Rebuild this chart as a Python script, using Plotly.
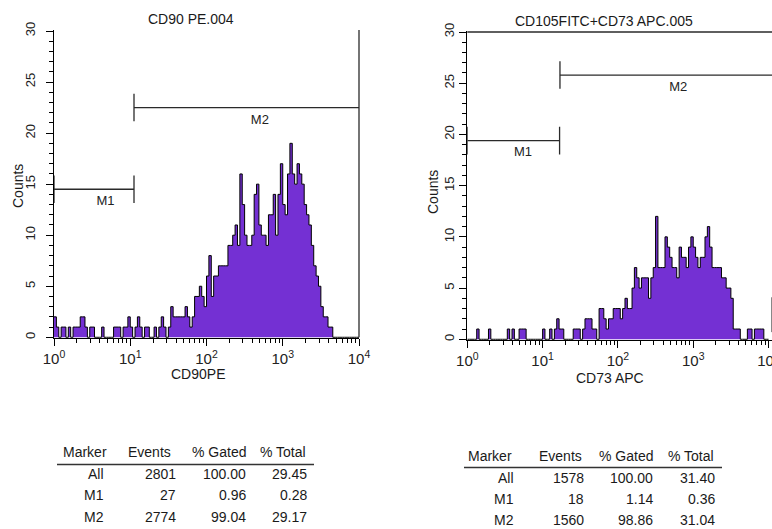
import plotly.graph_objects as go

W, H = 772, 529
FONT = "Liberation Sans, Arial, Helvetica, sans-serif"

# ---------------- data ----------------
DECADES = 4  # x axis spans 10^0 .. 10^4 (log channels)

# CD90 PE histogram counts (128 log-spaced channels from 10^0 to 10^4)
cd90pe_counts = [
    2, 1, 0, 1, 1, 0, 1, 0, 1, 1,
    1, 2, 2, 1, 0, 1, 1, 0, 0, 0,
    1, 0, 0, 0, 0, 1, 1, 1, 0, 1,
    1, 2, 1, 0, 1, 2, 1, 0, 1, 1,
    0, 0, 1, 0, 1, 2, 1, 0, 1, 3,
    2, 2, 2, 2, 2, 3, 2, 1, 2, 4,
    4, 5, 4, 3, 6, 8, 4, 6, 6, 7,
    7, 7, 7, 9, 9, 10, 11, 9, 16, 13,
    10, 9, 9, 10, 14, 15, 11, 10, 10, 9,
    12, 12, 14, 10, 14, 17, 13, 12, 16, 19,
    16, 15, 17, 16, 15, 13, 12, 11, 9, 7,
    6, 5, 3, 2, 2, 1, 1, 0, 0, 0,
    0, 0, 0, 0, 0, 0, 0, 0,
]

# CD73 APC histogram counts (128 log-spaced channels from 10^0 to 10^4)
cd73apc_counts = [
    0, 0, 0, 0, 1, 0, 0, 0, 0, 1,
    0, 0, 0, 0, 0, 0, 0, 1, 0, 1,
    0, 0, 1, 1, 1, 0, 0, 0, 0, 0,
    0, 0, 1, 0, 0, 1, 0, 1, 2, 1,
    1, 0, 0, 0, 0, 1, 1, 1, 0, 1,
    2, 2, 2, 1, 1, 0, 3, 3, 2, 1,
    2, 2, 3, 3, 3, 2, 3, 4, 3, 3,
    5, 7, 6, 5, 6, 6, 6, 4, 6, 7,
    12, 7, 7, 7, 10, 9, 8, 7, 7, 6,
    9, 8, 8, 7, 9, 10, 9, 8, 7, 8,
    8, 10, 11, 9, 7, 7, 7, 7, 6, 6,
    5, 5, 4, 1, 1, 1, 0, 0, 0, 1,
    1, 0, 1, 1, 1, 1, 0, 0,
]

# marker gates (channel value ranges)
cd90_gates = {"M1": (1.0, 11.2), "M2": (11.2, 10000.0)}
cd73_gates = {"M1": (1.0, 16.8), "M2": (17.0, 11200.0)}

# statistics tables
table_header = ["Marker", "Events", "% Gated", "% Total"]
table_markers = ["All", "M1", "M2"]
cd90_events = ["2801", "27", "2774"]
cd90_gated = ["100.00", "0.96", "99.04"]
cd90_total = ["29.45", "0.28", "29.17"]
cd73_events = ["1578", "18", "1560"]
cd73_gated = ["100.00", "1.14", "98.86"]
cd73_total = ["31.40", "0.36", "31.04"]

# ---------------- figure ----------------
PURPLE = "#7430d3"
MARK = "#2a2a2a"

def px(x):
    return x / W

def py(y):
    return 1 - y / H

fig = go.Figure()


def add_hist(counts, xa, ya):
    n = len(counts)
    xs = [10 ** (DECADES * i / n) for i in range(n + 1)]
    ys = list(counts) + [counts[-1]]
    fig.add_trace(go.Scatter(
        x=xs, y=ys, mode="lines",
        line=dict(shape="hv", color="black", width=1),
        fill="tozeroy", fillcolor=PURPLE,
        xaxis=xa, yaxis=ya, showlegend=False, hoverinfo="skip"))


def add_gate(lo, hi, level, half, xa, ya, left_tick=True, right_tick=True):
    xs, ys = [], []
    xs += [lo, hi, None]
    ys += [level, level, None]
    if left_tick:
        xs += [lo, lo, None]
        ys += [level - half, level + half, None]
    if right_tick:
        xs += [hi, hi, None]
        ys += [level - half, level + half, None]
    fig.add_trace(go.Scatter(
        x=xs, y=ys, mode="lines", line=dict(color=MARK, width=1.3),
        xaxis=xa, yaxis=ya, showlegend=False, hoverinfo="skip"))


def add_label(text, xlog, yval, xa, ya):
    fig.add_trace(go.Scatter(
        x=[10 ** xlog], y=[yval], mode="text", text=[text],
        textposition="middle center",
        textfont=dict(family=FONT, size=13, color="#222"),
        xaxis=xa, yaxis=ya, showlegend=False, hoverinfo="skip"))


add_hist(cd90pe_counts, "x", "y")
add_hist(cd73apc_counts, "x2", "y2")

# left markers
add_gate(*cd90_gates["M1"], 14.5, 1.35, "x", "y")
add_gate(*cd90_gates["M2"], 22.5, 1.35, "x", "y", right_tick=False)
add_label("M1", 0.675, 13.3, "x", "y")
add_label("M2", 2.70, 21.2, "x", "y")

# right markers
add_gate(*cd73_gates["M1"], 19.4, 1.35, "x2", "y2")
add_gate(*cd73_gates["M2"], 25.8, 1.35, "x2", "y2", right_tick=False)
add_label("M1", 0.74, 18.2, "x2", "y2")
add_label("M2", 2.80, 24.6, "x2", "y2")

# axes
major = [1, 10, 100, 1000, 10000]
major_txt = ["10<sup>%d</sup>" % d for d in range(5)]
minor_vals = [k * 10 ** d for d in range(4) for k in range(2, 10)]

def xaxis_cfg(domain, rng, anchor):
    return dict(
        type="log", range=rng, domain=domain, anchor=anchor,
        automargin=False, ticklabeloverflow="allow",
        showline=True, linecolor="black", linewidth=1,
        ticks="outside", ticklen=7, tickwidth=1, tickcolor="black",
        tickmode="array", tickvals=major, ticktext=major_txt,
        minor=dict(tickmode="array", tickvals=minor_vals, ticks="outside",
                   ticklen=4, tickwidth=1, tickcolor="black"),
        showgrid=False, zeroline=False,
        tickfont=dict(family=FONT, size=15, color="#222"),
        fixedrange=True)

def yaxis_cfg(domain, anchor, standoff):
    return dict(
        range=[-0.1, 30.1], domain=domain, anchor=anchor,
        automargin=False,
        showline=True, linecolor="black", linewidth=1,
        ticks="outside", ticklen=7, tickwidth=1, tickcolor="black",
        tick0=0, dtick=5, tickangle=-90,
        minor=dict(dtick=1, ticks="outside", ticklen=4, tickwidth=1,
                   tickcolor="black"),
        showgrid=False, zeroline=False, ticklabelstandoff=standoff,
        tickfont=dict(family=FONT, size=13, color="#222"),
        fixedrange=True)

fig.update_layout(
    width=W, height=H, margin=dict(l=0, r=0, t=0, b=0, autoexpand=False),
    paper_bgcolor="white", plot_bgcolor="rgba(0,0,0,0)",
    showlegend=False,
    xaxis=xaxis_cfg([px(54), px(359)], [0, 4], "y"),
    yaxis=yaxis_cfg([py(338.3), py(30.0)], "x", 6),
    xaxis2=xaxis_cfg([px(467.3), 1.0], [0, 4.046], "y2"),
    yaxis2=yaxis_cfg([py(340.3), py(31.0)], "x2", 0),
)

# border / extra marker lines
shapes = [
    dict(type="line", xref="x domain", yref="y", x0=1, x1=1, y0=0, y1=30.2,
         line=dict(color=MARK, width=1.3)),
    dict(type="line", xref="x2 domain", yref="y2", x0=0, x1=1, y0=30, y1=30,
         line=dict(color=MARK, width=1.3)),
    dict(type="line", xref="paper", yref="y2", x0=px(771.5), x1=px(771.5),
         y0=0.7, y1=4.1, line=dict(color="#888", width=1)),
]

annotations = []

def ann(text, x, y, xanchor="center", size=14, textangle=0):
    annotations.append(dict(
        text=text, x=px(x), y=py(y), xref="paper", yref="paper",
        xanchor=xanchor, yanchor="middle", showarrow=False,
        textangle=textangle,
        font=dict(family=FONT, size=size, color="#1a1a1a")))

# titles
ann("CD90 PE.004", 191, 19)
ann("CD105FITC+CD73 APC.005", 604, 21)
# axis titles
ann("Counts", 18, 186, textangle=-90)
ann("CD90PE", 198, 374)
ann("Counts", 433, 192, textangle=-90)
ann("CD73 APC", 610, 378)

# tables
def add_table(head_rights, val_rights, head_y, row_ys, line_x0, line_x1, line_y,
              events, gated, total):
    for txt, xr in zip(table_header, head_rights):
        ann(txt, xr, head_y, xanchor="right")
    cols = [table_markers, events, gated, total]
    for col, xr in zip(cols, val_rights):
        for txt, yy in zip(col, row_ys):
            ann(txt, xr, yy, xanchor="right")
    shapes.append(dict(type="line", xref="paper", yref="paper",
                       x0=px(line_x0), x1=px(line_x1), y0=py(line_y), y1=py(line_y),
                       line=dict(color="#333", width=1.5)))

add_table([109, 173, 248, 308], [106, 178, 248, 309], 452, [474, 495, 517],
          57, 314, 464.5, cd90_events, cd90_gated, cd90_total)
add_table([514, 584, 655, 716], [516, 586, 655, 717], 455.5, [477.5, 499, 520],
          464, 722, 467.5, cd73_events, cd73_gated, cd73_total)

fig.update_layout(shapes=shapes, annotations=annotations)

fig.write_html("out.html")
